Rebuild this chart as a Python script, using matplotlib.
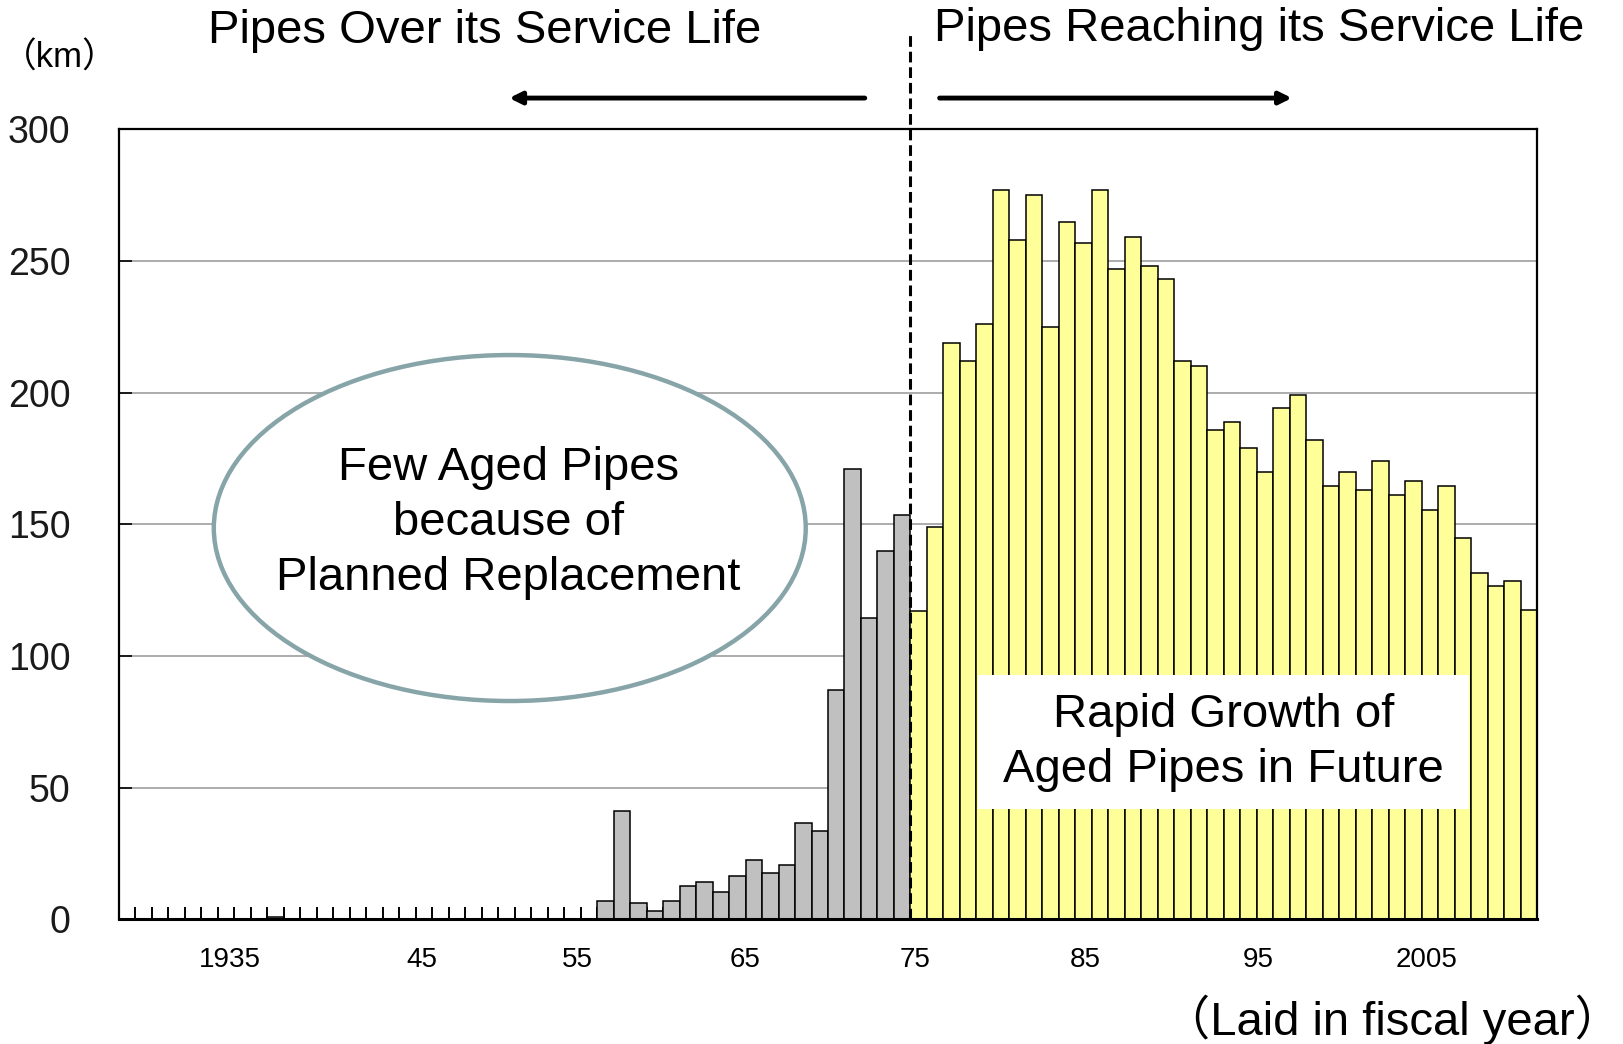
import numpy as np
import matplotlib
matplotlib.use('Agg')
import matplotlib.pyplot as plt
from matplotlib.patches import Ellipse, Rectangle

# km of pipes laid per fiscal year
old_years = [1936, 1956, 1957, 1958, 1959, 1960, 1961, 1962, 1963, 1964,
             1965, 1966, 1967, 1968, 1969, 1970, 1971, 1972, 1973, 1974]
old_km = [1, 7, 41, 6, 3, 7, 12.5, 14, 10.5, 16.5,
          22.5, 17.5, 20.5, 36.5, 33.5, 87, 171, 114.5, 140, 153.5]

new_years = list(range(1975, 2013))
new_km = [117, 149, 219, 212, 226, 277, 258, 275, 225, 265,
          257, 277, 247, 259, 248, 243, 212, 210, 186, 189,
          179, 170, 194, 199, 182, 164.5, 170, 163, 174, 161,
          166.5, 155.5, 164.5, 145, 131.5, 126.5, 128.5, 117.5]

first_year, last_year = 1927, 2012
tick_labels = ['1935', '45', '55', '65', '75', '85', '95', '2005']
tick_pos = [1933.2, 1944.85, 1954.3, 1964.5, 1974.8, 1985.1, 1995.6, 2005.8]

plt.rcParams['font.family'] = ['Liberation Sans', 'Noto Sans CJK JP', 'DejaVu Sans']

fig = plt.figure(figsize=(16.23, 10.44), dpi=100)
ax = fig.add_axes([0.07332, 0.11945, 0.87369, 0.75661])

ax.bar(old_years, old_km, width=1.0, color='#c0c0c0', edgecolor='black', linewidth=1.1, zorder=2)
ax.bar(new_years, new_km, width=1.0, color='#ffff99', edgecolor='black', linewidth=1.1, zorder=2)

ax.set_xlim(first_year - 0.5, last_year + 0.5)
ax.set_ylim(0, 300)

# grid
ax.set_yticks(np.arange(0, 301, 50))
ax.set_yticklabels([str(v) for v in range(0, 301, 50)], fontsize=27, color='#1a1a1a')
for v in range(50, 300, 50):
    ax.axhline(v, color='#a6a6a6', lw=1.3, zorder=1)
ax.tick_params(axis='y', direction='in', length=9, width=1.2, pad=35)

# x labels (no tick marks) + small tick marks at category boundaries
ax.set_xticks(tick_pos)
ax.set_xticklabels(tick_labels, fontsize=20)
ax.tick_params(axis='x', which='major', length=0, pad=20)
ax.set_xticks(np.arange(first_year + 0.5, last_year, 1.0), minor=True)
ax.tick_params(axis='x', which='minor', direction='in', length=9, width=1.4)

for s in ['left', 'right', 'top']:
    ax.spines[s].set_linewidth(1.6)
ax.spines['bottom'].set_linewidth(2.2)
ax.spines['bottom'].set_zorder(3)

# divider between old and new pipes
split = new_years[0] - 0.5
ax.plot([split, split], [0, 337], ls=(0, (3.5, 1.6)), color='black', lw=2.2,
        clip_on=False, zorder=5)

# arrows and headings above the plot
ax.annotate('', xy=(1950.0, 311.9), xytext=(1971.9, 311.9),
            arrowprops=dict(arrowstyle='-|>', lw=3.5, color='black', mutation_scale=18),
            annotation_clip=False)
ax.annotate('', xy=(1997.8, 311.9), xytext=(1976.1, 311.9),
            arrowprops=dict(arrowstyle='-|>', lw=3.5, color='black', mutation_scale=18),
            annotation_clip=False)
ax.text(1931.9, 337.3, 'Pipes Over its Service Life', fontsize=34, ha='left', va='center',
        clip_on=False)
ax.text(1975.9, 338.3, 'Pipes Reaching its Service Life', fontsize=34, ha='left', va='center',
        clip_on=False)

fig.text(2 / 1623, 1 - 58 / 1044, '（km）', fontsize=25, ha='left', va='center')
fig.text(1622 / 1623, 1 - 1020 / 1044, '（Laid in fiscal year）', fontsize=34,
         ha='right', va='center')

# callouts
ell = Ellipse((1950.2, 148.6), 35.9, 131.4, facecolor='white', edgecolor='#87a5a8',
              lw=3.2, zorder=6)
ax.add_patch(ell)
ax.text(1950.1, 150.5, 'Few Aged Pipes\nbecause of\nPlanned Replacement', fontsize=34,
        ha='center', va='center', zorder=7, linespacing=1.33)

ax.add_patch(Rectangle((1978.6, 41.8), 29.8, 50.9, facecolor='white', edgecolor='none', zorder=6))
ax.text(1993.5, 67.0, 'Rapid Growth of\nAged Pipes in Future', fontsize=34,
        ha='center', va='center', zorder=7, linespacing=1.33)

fig.savefig('out.png', dpi=100)
